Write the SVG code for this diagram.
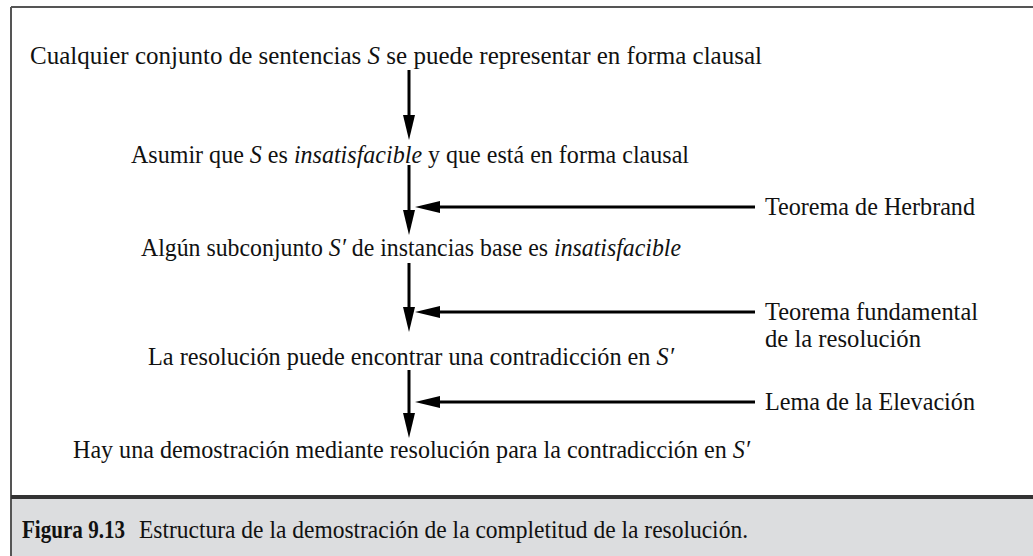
<svg xmlns="http://www.w3.org/2000/svg" width="1033" height="556" viewBox="0 0 1033 556">
<defs>
<style>
.t{font-family:"Liberation Serif","Times New Roman",serif;font-size:25px;fill:#111}
.i{font-style:italic}
.b{font-weight:bold}
.ln{stroke:#000;stroke-width:3;fill:none}
.ah{fill:#000}
</style>
</defs>
<rect x="0" y="0" width="1033" height="556" fill="#fff"/>
<rect x="12" y="499" width="1021" height="57" fill="#dcdddf"/>
<g id="frame">
<line x1="11" y1="7" x2="1033" y2="7" stroke="#555" stroke-width="2"/>
<line x1="11" y1="7" x2="11" y2="556" stroke="#555" stroke-width="2"/>
<line x1="11" y1="497" x2="1033" y2="497" stroke="#333" stroke-width="4"/>
</g>
<g id="n1"><text class="t" x="30" y="64" textLength="732" lengthAdjust="spacingAndGlyphs">Cualquier conjunto de sentencias <tspan class="i">S</tspan> se puede representar en forma clausal</text></g>
<g id="n2"><text class="t" x="131" y="163" textLength="558" lengthAdjust="spacingAndGlyphs">Asumir que <tspan class="i">S</tspan> es <tspan class="i">insatisfacible</tspan> y que está en forma clausal</text></g>
<g id="n3"><text class="t" x="141" y="256" textLength="540" lengthAdjust="spacingAndGlyphs">Algún subconjunto <tspan class="i">S′</tspan> de instancias base es <tspan class="i">insatisfacible</tspan></text></g>
<g id="n4"><text class="t" x="148" y="365" textLength="526" lengthAdjust="spacingAndGlyphs">La resolución puede encontrar una contradicción en <tspan class="i">S′</tspan></text></g>
<g id="n5"><text class="t" x="73" y="458" textLength="677" lengthAdjust="spacingAndGlyphs">Hay una demostración mediante resolución para la contradicción en <tspan class="i">S′</tspan></text></g>
<g id="r1"><text class="t" x="765" y="215" textLength="210" lengthAdjust="spacingAndGlyphs">Teorema de Herbrand</text></g>
<g id="r2"><text class="t" x="765" y="320" textLength="213" lengthAdjust="spacingAndGlyphs">Teorema fundamental</text><text class="t" x="765" y="347" textLength="156" lengthAdjust="spacingAndGlyphs">de la resolución</text></g>
<g id="r3"><text class="t" x="765" y="410" textLength="210" lengthAdjust="spacingAndGlyphs">Lema de la Elevación</text></g>
<g id="caption"><text class="t b" x="22" y="538" textLength="103" lengthAdjust="spacingAndGlyphs">Figura 9.13</text><text class="t" x="139" y="538" textLength="609" lengthAdjust="spacingAndGlyphs">Estructura de la demostración de la completitud de la resolución.</text></g>
<g id="connectors">
<line class="ln" x1="409" y1="70" x2="409" y2="118"/><polygon class="ah" points="403,115 415,115 409,140"/>
<line class="ln" x1="409" y1="165" x2="409" y2="213"/><polygon class="ah" points="403,210 415,210 409,235"/>
<line class="ln" x1="409" y1="263" x2="409" y2="310"/><polygon class="ah" points="403,307 415,307 409,332"/>
<line class="ln" x1="409" y1="370" x2="409" y2="416"/><polygon class="ah" points="403,413 415,413 409,438"/>
<line class="ln" x1="755" y1="207" x2="437" y2="207"/><polygon class="ah" points="440,201 440,213 415,207"/>
<line class="ln" x1="755" y1="312" x2="437" y2="312"/><polygon class="ah" points="440,306 440,318 415,312"/>
<line class="ln" x1="755" y1="402" x2="437" y2="402"/><polygon class="ah" points="440,396 440,408 415,402"/>
</g>
</svg>
